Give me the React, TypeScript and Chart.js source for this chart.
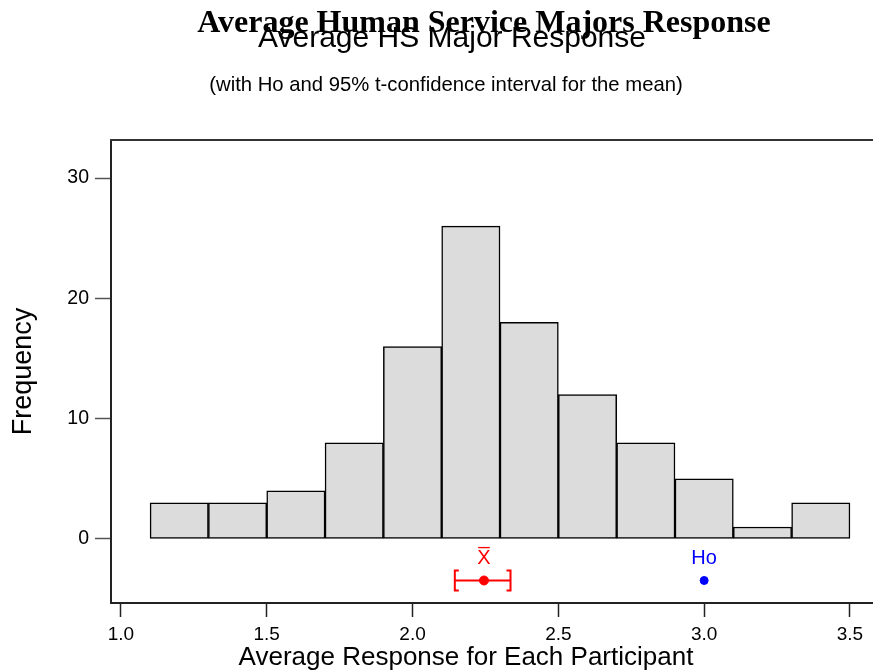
import { useEffect, useRef } from 'react';
import { Chart, registerables } from 'chart.js';

Chart.register(...registerables);

// ---- data ----
const binCenters = [1.2, 1.4, 1.6, 1.8, 2.0, 2.2, 2.4, 2.6, 2.8, 3.0, 3.2, 3.4];
const frequencies = [3, 3, 4, 8, 16, 26, 18, 12, 8, 5, 1, 3];
const xTickValues = [1.0, 1.5, 2.0, 2.5, 3.0, 3.5];
const yTickValues = [0, 10, 20, 30];
const ciLower = 2.145;
const ciMean = 2.245;
const ciUpper = 2.336;
const hoValue = 3.0;
const markerLevel = -3.45;

const titleMain = 'Average Human Service Majors Response';
const titleOverlay = 'Average HS Major Response';
const subtitleText = '(with Ho and 95% t-confidence interval for the mean)';
const xTitle = 'Average Response for Each Participant';
const yTitle = 'Frequency';
const meanLabel = 'X\u0305';
const hoLabel = 'Ho';

// axis extents
const xAxisMin = 0.966;
const xAxisMax = 3.579;
const yAxisMin = -5.32;
const yAxisMax = 33.16;

const SANS = "'Liberation Sans', Arial, sans-serif";
const SERIF = "'Liberation Serif', 'Times New Roman', serif";

const decorPlugin = {
  id: 'decor',
  afterDraw(chart: any) {
    const { ctx, chartArea, scales } = chart;
    const xs = scales.x;
    const ys = scales.y;
    ctx.save();
    // top frame line
    ctx.strokeStyle = '#333';
    ctx.lineWidth = 2;
    ctx.beginPath();
    ctx.moveTo(chartArea.left - 1, chartArea.top);
    ctx.lineTo(chartArea.right, chartArea.top);
    ctx.stroke();

    // titles
    ctx.fillStyle = '#000';
    ctx.textAlign = 'center';
    ctx.textBaseline = 'alphabetic';
    ctx.font = `bold 32px ${SERIF}`;
    ctx.fillText(titleMain, 484, 32);
    ctx.font = `30px ${SANS}`;
    ctx.fillText(titleOverlay, 452, 47);
    ctx.font = `20.3px ${SANS}`;
    ctx.fillText(subtitleText, 446, 91);

    // x axis title
    ctx.font = `26px ${SANS}`;
    ctx.fillText(xTitle, 466, 665);

    // CI bracket ends
    const yPix = ys.getPixelForValue(markerLevel);
    const lo = xs.getPixelForValue(ciLower);
    const hi = xs.getPixelForValue(ciUpper);
    ctx.strokeStyle = '#ff0000';
    ctx.lineWidth = 2;
    ctx.beginPath();
    ctx.moveTo(lo + 4, yPix - 10);
    ctx.lineTo(lo, yPix - 10);
    ctx.lineTo(lo, yPix + 10);
    ctx.lineTo(lo + 4, yPix + 10);
    ctx.moveTo(hi - 4, yPix - 10);
    ctx.lineTo(hi, yPix - 10);
    ctx.lineTo(hi, yPix + 10);
    ctx.lineTo(hi - 4, yPix + 10);
    ctx.stroke();

    // labels over markers
    ctx.font = `20px ${SANS}`;
    ctx.textBaseline = 'middle';
    ctx.fillStyle = '#ff0000';
    ctx.fillText(meanLabel, xs.getPixelForValue(ciMean), yPix - 22);
    ctx.fillStyle = '#0000ff';
    ctx.fillText(hoLabel, xs.getPixelForValue(hoValue), yPix - 22);
    ctx.restore();
  },
};

export default function App() {
  const canvasRef = useRef<HTMLCanvasElement | null>(null);

  useEffect(() => {
    const canvas = canvasRef.current;
    if (!canvas) return;
    const chart = new Chart(canvas, {
      type: 'bar',
      data: {
        datasets: [
          {
            type: 'line',
            label: 'CI',
            data: [
              { x: ciLower, y: markerLevel },
              { x: ciUpper, y: markerLevel },
            ],
            borderColor: '#ff0000',
            borderWidth: 2,
            pointRadius: 0,
            order: 1,
          } as any,
          {
            type: 'scatter',
            label: 'Mean',
            data: [{ x: ciMean, y: markerLevel }],
            backgroundColor: '#ff0000',
            borderColor: '#ff0000',
            pointRadius: 4.5,
            order: 0,
          } as any,
          {
            type: 'scatter',
            label: 'Ho',
            data: [{ x: hoValue, y: markerLevel }],
            backgroundColor: '#0000ff',
            borderColor: '#0000ff',
            pointRadius: 4,
            order: 0,
          } as any,
          {
            type: 'bar',
            label: 'Frequency',
            data: binCenters.map((x, i) => ({ x, y: frequencies[i] })),
            backgroundColor: '#dcdcdc',
            borderColor: '#000',
            borderWidth: 1.5,
            borderSkipped: false,
            barPercentage: 1,
            categoryPercentage: 1,
            order: 2,
          } as any,
        ],
      },
      options: {
        animation: false,
        responsive: false,
        maintainAspectRatio: false,
        layout: { autoPadding: false, padding: { top: 140, left: 0, right: 0, bottom: 0 } },
        plugins: {
          legend: { display: false },
          title: { display: false },
          tooltip: { enabled: false },
        },
        scales: {
          x: {
            type: 'linear',
            min: xAxisMin,
            max: xAxisMax,
            offset: false,
            afterBuildTicks: (s: any) => {
              s.ticks = xTickValues.map((v) => ({ value: v }));
            },
            afterFit: (s: any) => {
              s.height = 67;
              s.paddingLeft = 0;
              s.paddingRight = 0;
            },
            grid: {
              offset: false,
              drawOnChartArea: false,
              drawTicks: true,
              tickLength: 14,
              tickColor: '#222',
              tickWidth: 1.5,
            },
            border: { display: true, color: '#222', width: 2 },
            ticks: {
              color: '#000',
              font: { family: SANS, size: 19 },
              padding: 6,
              maxRotation: 0,
              autoSkip: false,
              callback: (v: any) => Number(v).toFixed(1),
            },
            title: { display: false },
          },
          y: {
            type: 'linear',
            min: yAxisMin,
            max: yAxisMax,
            afterBuildTicks: (s: any) => {
              s.ticks = yTickValues.map((v) => ({ value: v }));
            },
            afterFit: (s: any) => {
              s.width = 111;
              s.paddingTop = 0;
              s.paddingBottom = 0;
            },
            grid: {
              drawOnChartArea: false,
              drawTicks: true,
              tickLength: 16,
              tickColor: '#555',
              tickWidth: 1.5,
            },
            border: { display: true, color: '#222', width: 2 },
            ticks: {
              color: '#000',
              font: { family: SANS, size: 19.5 },
              padding: 6,
            },
            title: {
              display: true,
              text: yTitle,
              color: '#000',
              font: { family: SANS, size: 27 },
              padding: { top: 7, bottom: 0 },
            },
          },
        },
      } as any,
      plugins: [decorPlugin],
    });
    return () => chart.destroy();
  }, []);

  return (
    <div style={{ position: 'absolute', left: 0, top: 0, width: 873, height: 670, background: '#fff' }}>
      <canvas ref={canvasRef} width={873} height={670} style={{ display: 'block' }} />
    </div>
  );
}
